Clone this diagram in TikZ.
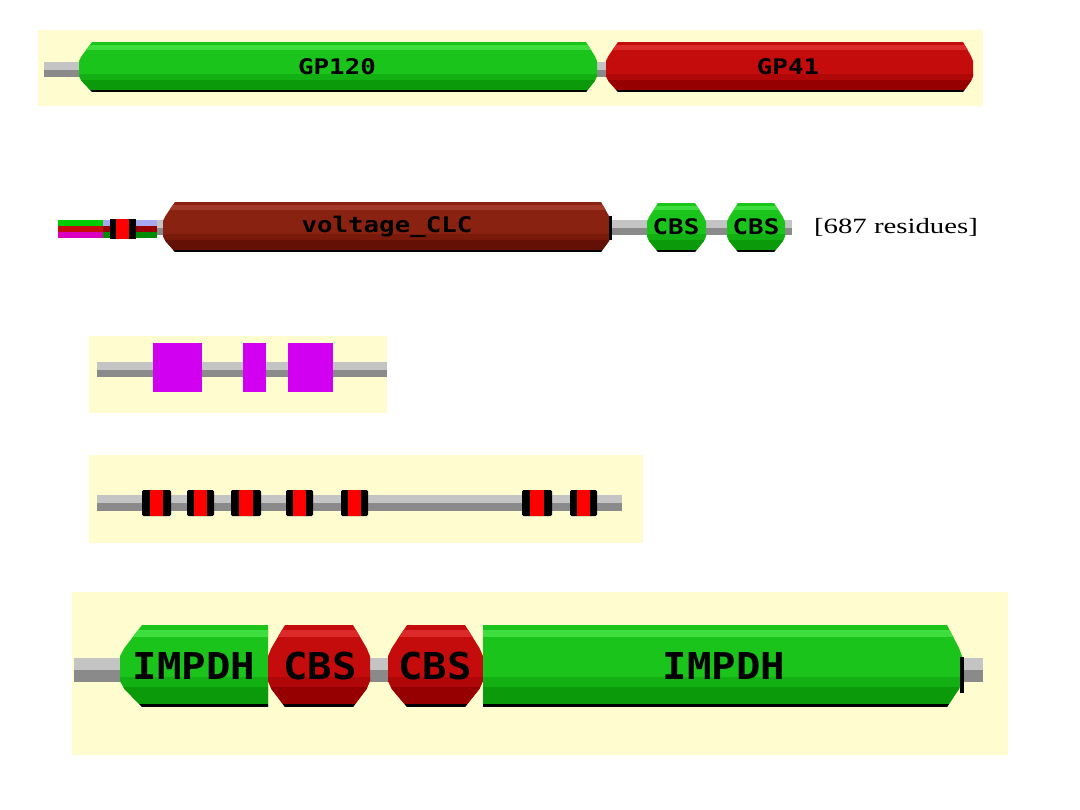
\documentclass[tikz,border=0pt]{standalone}
\usepackage{fontspec}
\usepackage{xcolor}
\usepackage{tikz}
\usetikzlibrary{positioning}

\newfontfamily\pixfont[FakeStretch=1.2]{DejaVu Sans Mono}
\newfontfamily\pixbig[FakeStretch=1.1]{DejaVu Sans Mono}
\newfontfamily\resfont[FakeStretch=1.32]{Liberation Serif}

\definecolor{bgyel}{HTML}{FFFCCF}
\definecolor{gryhi}{HTML}{C4C4C4}
\definecolor{grylo}{HTML}{8A8A8A}
\definecolor{grn}{HTML}{1AC41A}
\definecolor{grnhi}{HTML}{3FDE3F}
\definecolor{grnmd}{HTML}{12B012}
\definecolor{grndk}{HTML}{0A9A0A}
\definecolor{rd}{HTML}{C40C0C}
\definecolor{rdhi}{HTML}{DC2A2A}
\definecolor{rdmd}{HTML}{B00808}
\definecolor{rddk}{HTML}{960000}
\definecolor{brn}{HTML}{8A2212}
\definecolor{brnhi}{HTML}{A23828}
\definecolor{brnmd}{HTML}{7A1A0A}
\definecolor{brndk}{HTML}{641004}
\definecolor{mag}{HTML}{D200F0}
\definecolor{lav}{HTML}{A8A8F0}

% domain: left x, right x, top y, bottom y, left cut, right cut, colour
\newcommand{\domain}[7]{%
  \begin{scope}
    \clip ({#1+#5},#3) -- ({#2-#6},#3) -- ({#2-0.2*#6},{#3+0.28*(#4-#3)})
      -- (#2,{#3+0.38*(#4-#3)}) -- (#2,{#3+0.68*(#4-#3)})
      -- ({#2-0.2*#6},{#3+0.78*(#4-#3)}) -- ({#2-#6},#4) -- ({#1+#5},#4)
      -- ({#1+0.2*#5},{#3+0.78*(#4-#3)}) -- (#1,{#3+0.68*(#4-#3)})
      -- (#1,{#3+0.38*(#4-#3)}) -- ({#1+0.2*#5},{#3+0.28*(#4-#3)}) -- cycle;
    \fill[#7] (0,#3) rectangle (1080,#4);
    \fill[#7hi] (0,{#3+0.06*(#4-#3)}) rectangle (1080,{#3+0.15*(#4-#3)});
    \fill[#7md] (0,{#3+0.64*(#4-#3)}) rectangle (1080,{#3+0.76*(#4-#3)});
    \fill[#7dk] (0,{#3+0.76*(#4-#3)}) rectangle (1080,{#3+0.96*(#4-#3)});
    \fill[black] (0,{#3+0.96*(#4-#3)}) rectangle (1080,#4);
  \end{scope}}

% backbone: left x, right x, top y, bottom y
\newcommand{\backbone}[4]{%
  \fill[gryhi] (#1,#3) rectangle (#2,{(#3+#4)/2});
  \fill[grylo] (#1,{(#3+#4)/2}) rectangle (#2,#4);}

\tikzset{
  dlabel/.style={inner sep=0pt, text=black, font=\pixfont\bfseries\fontsize{15.3}{18}\selectfont},
  biglabel/.style={inner sep=0pt, text=black, font=\pixbig\bfseries\fontsize{26.3}{30}\selectfont},
  panel/.style={fill=bgyel},
  tmbox/.style={fill=red},
  motif/.style={fill=mag}
}

\begin{document}
\begin{tikzpicture}[x=0.025cm, y=-0.025cm]
    \useasboundingbox (0,0) rectangle (1080,810);
    \fill[white] (0,0) rectangle (1080,810);

    % GP120 / GP41
    \fill[panel] (38,30) rectangle (983,106);
    \backbone{44}{973}{62}{77}
    \domain{79}{597}{42}{92}{13}{11}{grn}
    \domain{606}{973}{42}{92}{12}{10}{rd}
    \node[dlabel] (gpa) at (337,67) {GP120};
    \node[dlabel] (gpb) at (788,67) {GP41};

    % voltage_CLC row
    \fill[green!80!black] (58,220) rectangle (103,225.5);
    \fill[rd] (58,225.5) rectangle (103,231.5);
    \fill[mag!80!red] (58,231.5) rectangle (103,238);
    \fill[lav] (103,220) rectangle (157,225.5);
    \fill[rddk] (103,225.5) rectangle (157,231.5);
    \fill[green!55!black] (103,231.5) rectangle (157,238);
    \fill[black] (110,219) rectangle (136,239);
    \fill[red] (116,219) rectangle (129,239);
    \backbone{157}{792}{220}{235}
    \domain{163}{611}{202}{252}{12}{10}{brn}
    \fill[black] (609,216) rectangle (612,240);
    \domain{647}{706}{203}{252}{11}{11}{grn}
    \domain{727}{785}{203}{252}{11}{11}{grn}
    \node[dlabel] (clc) at (387,227) {voltage\_CLC};
    \node[dlabel] (cbsa) at (676,227) {CBS};
    \node[dlabel] (cbsb) at (756,227) {CBS};
    \node[inner sep=0pt, font=\resfont\fontsize{15.5}{18}\selectfont] (resid) at (896,227) {[687 residues]};

    % magenta motifs
    \fill[panel] (89,336) rectangle (387,413);
    \backbone{97}{387}{362}{377}
    \fill[motif] (153,343) rectangle (202,392);
    \fill[motif] (243,343) rectangle (266,392);
    \fill[motif] (288,343) rectangle (333,392);

    % transmembrane boxes
    \fill[panel] (89,455) rectangle (643,543);
    \backbone{97}{622}{495}{511}
    \foreach \xa/\xb in {142/171, 187/214, 231/261, 286/313, 341/368, 522/552, 570/597} {
        \fill[black, rounded corners=1pt] (\xa,490) rectangle (\xb,516);
        \fill[tmbox] ({\xa+0.27*(\xb-\xa)},490) rectangle ({\xb-0.27*(\xb-\xa)},516);
    }

    % IMPDH row
    \fill[panel] (72,592) rectangle (1008,755);
    \backbone{74}{983}{658}{682}
    \domain{120}{268}{625}{707}{22}{0}{grn}
    \domain{268}{370}{625}{707}{17}{17}{rd}
    \domain{388}{483}{625}{707}{19}{18}{rd}
    \domain{483}{962}{625}{707}{0}{15}{grn}
    \fill[black] (960,657) rectangle (964,693);
    \node[biglabel] (impa) at (194,666) {IMPDH};
    \node[biglabel] (cbsc) at (320,666) {CBS};
    \node[biglabel] (cbsd) at (435,666) {CBS};
    \node[biglabel] (impb) at (724,666) {IMPDH};
\end{tikzpicture}
\end{document}
